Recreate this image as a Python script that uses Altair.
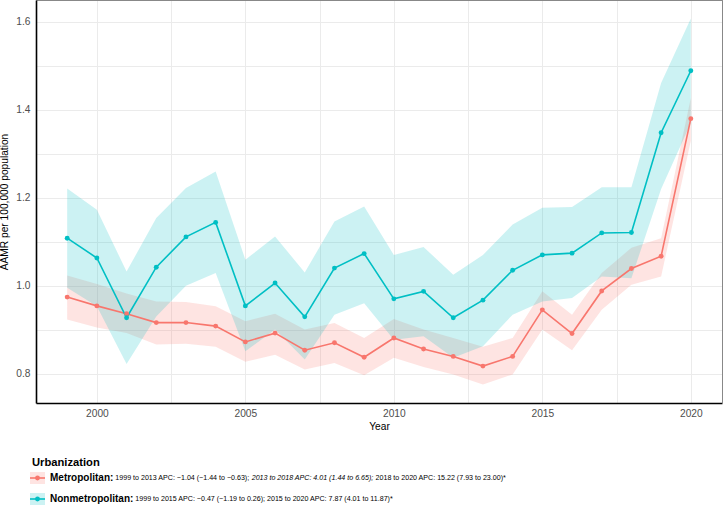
import altair as alt
import pandas as pd

years = list(range(1999, 2021))

metro = [0.974, 0.954, 0.936, 0.916, 0.916, 0.908, 0.872, 0.892, 0.853, 0.870, 0.837,
         0.881, 0.856, 0.839, 0.817, 0.839, 0.945, 0.891, 0.988, 1.039, 1.067, 1.380]
metro_hi = [1.023, 1.004, 0.982, 0.964, 0.963, 0.953, 0.919, 0.936, 0.900, 0.915, 0.881,
            0.924, 0.900, 0.881, 0.861, 0.881, 0.987, 0.934, 1.029, 1.086, 1.108, 1.427]
metro_lo = [0.923, 0.905, 0.892, 0.866, 0.868, 0.861, 0.827, 0.843, 0.809, 0.824, 0.796,
            0.836, 0.815, 0.798, 0.775, 0.798, 0.900, 0.853, 0.945, 1.002, 1.021, 1.330]

nonmetro = [1.108, 1.063, 0.927, 1.042, 1.111, 1.144, 0.954, 1.006, 0.929, 1.040, 1.073,
            0.970, 0.987, 0.927, 0.967, 1.035, 1.070, 1.074, 1.120, 1.121, 1.348, 1.489]
nonmetro_hi = [1.221, 1.173, 1.032, 1.154, 1.222, 1.260, 1.059, 1.112, 1.030, 1.146, 1.180,
               1.070, 1.088, 1.025, 1.070, 1.139, 1.177, 1.179, 1.224, 1.224, 1.461, 1.608]
nonmetro_lo = [0.995, 0.953, 0.822, 0.930, 1.000, 1.029, 0.851, 0.900, 0.832, 0.934, 0.960,
               0.877, 0.885, 0.836, 0.862, 0.934, 0.964, 0.972, 1.021, 1.017, 1.220, 1.370]

groups = ["Metropolitan", "Nonmetropolitan"]
colors = ["#F8766D", "#00BFC4"]

x_ticks = [2000, 2002.5, 2005, 2007.5, 2010, 2012.5, 2015, 2017.5, 2020]
y_ticks = [0.8, 0.9, 1.0, 1.1, 1.2, 1.3, 1.4, 1.5, 1.6]

legend_title = "Urbanization"
legend_rows = [
    [("b", "Metropolitan:"),
     ("r", " 1999 to 2013 APC: \u22121.04 (\u22121.44 to \u22120.63); "),
     ("i", "2013 to 2018 APC: 4.01 (1.44 to 6.65);"),
     ("r", " 2018 to 2020 APC: 15.22 (7.93 to 23.00)*")],
    [("b", "Nonmetropolitan:"),
     ("r", " 1999 to 2015 APC: \u22120.47 (\u22121.19 to 0.26); 2015 to 2020 APC: 7.87 (4.01 to 11.87)*")],
]

rows = []
for g, v, lo, hi in [("Metropolitan", metro, metro_lo, metro_hi),
                     ("Nonmetropolitan", nonmetro, nonmetro_lo, nonmetro_hi)]:
    for yr, a, l, h in zip(years, v, lo, hi):
        rows.append({"Year": yr, "Urbanization": g, "AAMR": a, "lo": l, "hi": h})
df = pd.DataFrame(rows)

W, H = 686, 403
LEFT = 36
FS = 10.2
BFS = 10.0      # bold legend label size
RFS = 7.1       # regular / italic legend text size
FONT = "Liberation Sans"

color = alt.Color("Urbanization:N", scale=alt.Scale(domain=groups, range=colors), legend=None)
xs = alt.Scale(domain=[1997.95, 2021.05], nice=False, zero=False)
ys = alt.Scale(domain=[0.733, 1.65], nice=False, zero=False)

xaxis = alt.Axis(values=x_ticks, labelExpr="datum.value % 5 === 0 ? datum.label : ''",
                 format="d", title="Year", grid=True, gridColor="#ebebeb", gridWidth=1,
                 ticks=False, domainColor="black", domainWidth=1.6,
                 labelFontSize=FS, labelColor="#4d4d4d", labelPadding=5,
                 titleFontSize=FS, titleFontWeight="normal", titleColor="black", titlePadding=3,
                 labelFont=FONT, titleFont=FONT, labelFlush=False)
yaxis = alt.Axis(values=y_ticks,
                 labelExpr="round(datum.value*10) % 2 === 0 ? format(datum.value, '.1f') : ''",
                 title="AAMR per 100,000 population", grid=True, gridColor="#ebebeb", gridWidth=1,
                 ticks=False, domainColor="black", domainWidth=1.6,
                 labelFontSize=FS, labelColor="#4d4d4d", labelPadding=6,
                 titleFontSize=FS, titleFontWeight="normal", titleColor="black", titlePadding=6,
                 labelFont=FONT, titleFont=FONT)

base = alt.Chart(df)
ribbon = base.mark_area(opacity=0.2, aria=False).encode(
    x=alt.X("Year:Q", scale=xs, axis=xaxis),
    y=alt.Y("lo:Q", scale=ys, axis=yaxis),
    y2="hi:Q",
    color=color,
)
line = base.mark_line(strokeWidth=1.6, aria=False).encode(
    x=alt.X("Year:Q", scale=xs), y=alt.Y("AAMR:Q", scale=ys), color=color)
pts = base.mark_circle(size=24, opacity=1, aria=False).encode(
    x=alt.X("Year:Q", scale=xs), y=alt.Y("AAMR:Q", scale=ys), color=color)

# ---- custom legend (mixed bold / italic text) ----
REG = {' ': 278, '(': 333, ')': 333, ':': 278, ';': 278, '.': 278, ',': 278, '\u2212': 584, '*': 389,
       'A': 667, 'P': 667, 'C': 722, 't': 278, 'o': 556}
for d in "0123456789":
    REG[d] = 556
BOLD = {'M': 833, 'N': 722, 'e': 556, 't': 333, 'r': 389, 'o': 611, 'p': 611, 'l': 278, 'i': 278,
        'a': 556, 'n': 611, 'm': 889, ':': 333, ' ': 278}

def width(s, bold):
    if bold:
        return sum(BOLD.get(c, 556) for c in s) / 1000.0 * BFS
    return sum(REG.get(c, 556) for c in s) / 1000.0 * RFS

TITLE_Y = 463
ROW_Y = [478, 499]
KEY_X0, KEY_X1 = 30, 45
TEXT_X = 50

def rx(v):
    return v - LEFT

seg = {"b": [], "r": [], "i": []}
for ri, row in enumerate(legend_rows):
    x = TEXT_X
    for style, txt in row:
        lead = len(txt) - len(txt.lstrip(' '))
        x += width(' ' * lead, style == "b")
        core = txt.strip(' ')
        seg[style].append({"t": core, "px": rx(x), "py": ROW_Y[ri]})
        x += width(core, style == "b")
        trail = len(txt) - len(txt.rstrip(' '))
        x += width(' ' * trail, style == "b")

def text_layer(records, weight, style, size):
    d = pd.DataFrame(records)
    return alt.Chart(d).mark_text(align="left", baseline="middle", fontSize=size, font=FONT,
                                  fontWeight=weight, fontStyle=style, color="black").encode(
        x=alt.X("px:Q", scale=None), y=alt.Y("py:Q", scale=None), text="t:N")

leg_bold = text_layer(seg["b"], "bold", "normal", BFS)
leg_reg = text_layer(seg["r"], "normal", "normal", RFS)
leg_it = text_layer(seg["i"], "normal", "italic", RFS)

title_df = pd.DataFrame({"t": [legend_title]})
leg_title = alt.Chart(title_df).mark_text(align="left", baseline="middle", fontSize=11.2, font=FONT,
                                          fontWeight="bold", color="black").encode(
    x=alt.value(rx(KEY_X0 + 2)), y=alt.value(TITLE_Y), text="t:N")

key_df = pd.DataFrame({"Urbanization": groups, "ky": ROW_Y})
key_rect = alt.Chart(key_df).mark_rect(opacity=0.2, aria=False).encode(
    x=alt.value(rx(KEY_X0)), x2=alt.value(rx(KEY_X1)),
    y=alt.Y("y0:Q", scale=None), y2=alt.Y2("y1:Q"), color=color
).transform_calculate(y0="datum.ky - 6", y1="datum.ky + 6")
key_line = alt.Chart(key_df).mark_rule(strokeWidth=1.6, aria=False).encode(
    x=alt.value(rx(KEY_X0)), x2=alt.value(rx(KEY_X1)), y=alt.Y("ky:Q", scale=None), color=color)
key_pt = alt.Chart(key_df).mark_circle(size=24, opacity=1, aria=False).encode(
    x=alt.value(rx((KEY_X0 + KEY_X1) / 2)), y=alt.Y("ky:Q", scale=None), color=color)

chart = alt.layer(ribbon, line, pts, key_rect, key_line, key_pt, leg_title, leg_bold, leg_reg, leg_it).properties(
    width=W, height=H,
    autosize=alt.AutoSizeParams(type="none"),
    padding={"left": LEFT, "top": 0, "right": 1, "bottom": 509 - H},
    background="white",
).configure_view(stroke=None).resolve_scale(x="independent", y="independent")

chart.save("out.html", embed_options={"renderer": "svg", "actions": False})
